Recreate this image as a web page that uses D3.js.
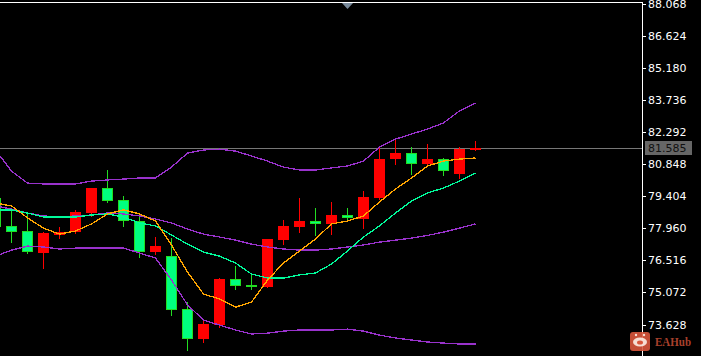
<!DOCTYPE html>
<html>
<head>
<meta charset="utf-8">
<script src="https://cdn.jsdelivr.net/npm/d3@7/dist/d3.min.js"></script>
<style>
  html, body { margin: 0; padding: 0; background: #000; overflow: hidden; }
  svg { display: block; }
  text { font-family: "DejaVu Sans", sans-serif; font-size: 11px; }
</style>
</head>
<body>
<svg id="chart" width="701" height="356"></svg>
<script>
// candle values
let opens  = [79.33,78.07,77.84,76.85,77.66,77.79,78.65,79.78,79.24,78.29,76.89,76.71,74.32,72.97,73.60,75.67,75.41,75.32,77.43,78.02,78.29,78.16,78.56,78.38,79.33,81.08,81.35,80.86,81.08,80.41,81.49];
let highs  = [79.46,78.88,78.65,77.79,78.02,78.79,79.78,80.59,79.42,78.52,77.57,77.52,74.64,73.87,75.72,76.26,75.90,77.48,78.34,79.33,78.88,79.15,78.88,79.64,81.62,81.94,81.62,81.76,81.13,81.62,81.89];
let lows   = [77.66,77.30,76.80,76.13,77.48,77.70,78.47,79.10,78.02,76.62,76.76,74.01,72.43,72.79,73.47,75.18,75.18,75.27,77.21,77.75,77.61,77.66,78.29,77.93,79.24,80.81,80.36,80.72,80.32,80.18,81.44];
let closes = [78.02,77.79,76.89,77.75,77.79,78.70,79.78,79.19,78.29,76.89,77.16,74.28,72.97,73.65,75.67,75.36,75.36,77.48,78.07,78.29,78.16,78.56,78.43,79.37,81.08,81.35,80.86,81.08,80.54,81.53,81.585];

// indicator lines
let bandUpper = [81.49,80.54,80.00,79.96,79.96,79.96,80.09,80.14,80.18,80.23,80.23,80.72,81.35,81.49,81.53,81.44,81.22,80.99,80.72,80.59,80.59,80.68,80.77,80.99,81.62,81.98,82.21,82.43,82.71,83.25,83.61];
let bandMid   = [78.97,78.83,78.65,78.52,78.47,78.52,78.56,78.65,78.61,78.52,78.38,78.20,77.93,77.70,77.57,77.43,77.25,77.12,77.03,76.98,76.98,77.03,77.12,77.21,77.34,77.43,77.52,77.64,77.79,77.97,78.16];
let bandLower = [76.71,76.98,77.16,77.12,77.03,77.07,77.07,77.07,77.07,76.85,76.62,75.63,74.51,73.83,73.60,73.38,73.20,73.24,73.33,73.38,73.38,73.38,73.42,73.33,73.15,73.02,72.93,72.84,72.79,72.75,72.75];
let maFast    = [79.10,78.97,78.43,77.97,77.70,77.84,78.16,78.61,78.79,78.61,78.29,77.21,75.99,75.00,74.78,74.41,74.64,75.63,76.40,76.94,77.48,78.16,78.29,78.52,79.15,79.73,80.23,80.77,80.99,81.08,81.13];
let maSlow    = [78.79,78.79,78.65,78.47,78.47,78.47,78.56,78.61,78.47,78.20,78.07,77.66,77.25,76.89,76.71,76.40,75.90,75.72,75.72,75.86,75.95,76.35,76.94,77.57,78.07,78.65,79.19,79.55,79.78,80.09,80.45];

let priceTicks = [88.068,86.624,85.180,83.736,82.292,80.848,79.404,77.960,76.516,75.072,73.628];
let lastPrice = 81.585;

let svg = d3.select("#chart");

let xScale = d3.scaleLinear().domain([0, 30]).range([-4.5, 475.5]);
let yScale = d3.scaleLinear().domain([88.068, 73.628]).range([4, 324.5]);
let py = v => Math.round(yScale(v));

// last price line, under the candles
svg.append("line")
   .attr("x1", 0).attr("x2", 642)
   .attr("y1", py(lastPrice) + 0.5).attr("y2", py(lastPrice) + 0.5)
   .attr("stroke", "#777");

// wicks
svg.selectAll(".wick")
   .data(opens)
   .enter()
   .append("line")
   .attr("class", "wick")
   .attr("x1", (d, i) => xScale(i))
   .attr("x2", (d, i) => xScale(i))
   .attr("y1", (d, i) => py(highs[i]))
   .attr("y2", (d, i) => py(lows[i]))
   .attr("stroke", (d, i) => closes[i] >= d ? "#ff0000" : "#22dd22");

// bodies, red is up
svg.selectAll(".body")
   .data(opens)
   .enter()
   .append("rect")
   .attr("class", "body")
   .attr("x", (d, i) => xScale(i) - 5)
   .attr("width", 10)
   .attr("y", (d, i) => py(Math.max(d, closes[i])) + 0.5)
   .attr("height", (d, i) => Math.max(1, py(Math.min(d, closes[i])) - py(Math.max(d, closes[i])) - 1))
   .attr("fill", (d, i) => closes[i] >= d ? "#ff0000" : "#00ff7f")
   .attr("stroke", (d, i) => closes[i] >= d ? "#ff0000" : "#22dd22");

// lines
let lineGen = d3.line().x((d, i) => xScale(i)).y(d => yScale(d));
let series = [
  [bandUpper, "#9932cc"],
  [bandMid, "#9932cc"],
  [bandLower, "#9932cc"],
  [maSlow, "#00fa9a"],
  [maFast, "#ffa500"]
];
svg.selectAll(".series")
   .data(series)
   .enter()
   .append("path")
   .attr("class", "series")
   .attr("d", d => lineGen(d[0]))
   .attr("fill", "none")
   .attr("stroke", d => d[1])
   .attr("stroke-width", 1.3)
   .attr("shape-rendering", "crispEdges");

// frame
svg.append("line").attr("x1", 0).attr("x2", 642).attr("y1", 2.5).attr("y2", 2.5).attr("stroke", "#fff");
svg.append("line").attr("x1", 642.5).attr("x2", 642.5).attr("y1", 2).attr("y2", 356).attr("stroke", "#fff");

// scroll marker at top
svg.append("path")
   .attr("d", d3.symbol().type(d3.symbolTriangle).size(40))
   .attr("transform", "translate(347.5,5) scale(1.15,-0.72)")
   .attr("fill", "#778899");

// Axes:
let yAxis = d3.axisRight(yScale)
              .tickValues(priceTicks)
              .tickFormat(d3.format(".3f"))
              .tickSize(4)
              .tickPadding(2);

let axisG = svg.append("g")
               .attr("transform", "translate(642,0)")
               .call(yAxis);
axisG.select(".domain").remove();
axisG.selectAll(".tick line").attr("stroke", "#fff").attr("shape-rendering", "crispEdges");
axisG.selectAll(".tick text").attr("fill", "#fff").style("font-family", "'DejaVu Sans'").style("font-size", "11px");

// last price tag
svg.append("rect")
   .attr("x", 645).attr("y", py(lastPrice) - 7)
   .attr("width", 47).attr("height", 14)
   .attr("fill", "#666");
svg.append("text")
   .attr("x", 648).attr("y", py(lastPrice) + 4)
   .attr("fill", "#111")
   .text(lastPrice.toFixed(3));

// watermark
let logo = svg.append("g").attr("transform", "translate(630,332)");
logo.append("rect").attr("width", 20).attr("height", 19).attr("rx", 3).attr("fill", "#d9573c").attr("fill-opacity", 0.9);
logo.append("ellipse").attr("cx", 10).attr("cy", 10).attr("rx", 7).attr("ry", 4.5).attr("fill", "#f6ddd2");
logo.append("ellipse").attr("cx", 10).attr("cy", 10.5).attr("rx", 3).attr("ry", 2).attr("fill", "#d9573c");
logo.append("circle").attr("cx", 6).attr("cy", 3).attr("r", 1.2).attr("fill", "#f6ddd2");
logo.append("circle").attr("cx", 14).attr("cy", 3).attr("r", 1.2).attr("fill", "#f6ddd2");
svg.append("text")
   .attr("x", 655).attr("y", 346)
   .attr("fill", "#a8402c")
   .attr("textLength", 36)
   .attr("lengthAdjust", "spacingAndGlyphs")
   .style("font-family", "'Liberation Serif'")
   .style("font-weight", "bold")
   .style("font-size", "13px")
   .text("EAHub");
</script>
</body>
</html>
